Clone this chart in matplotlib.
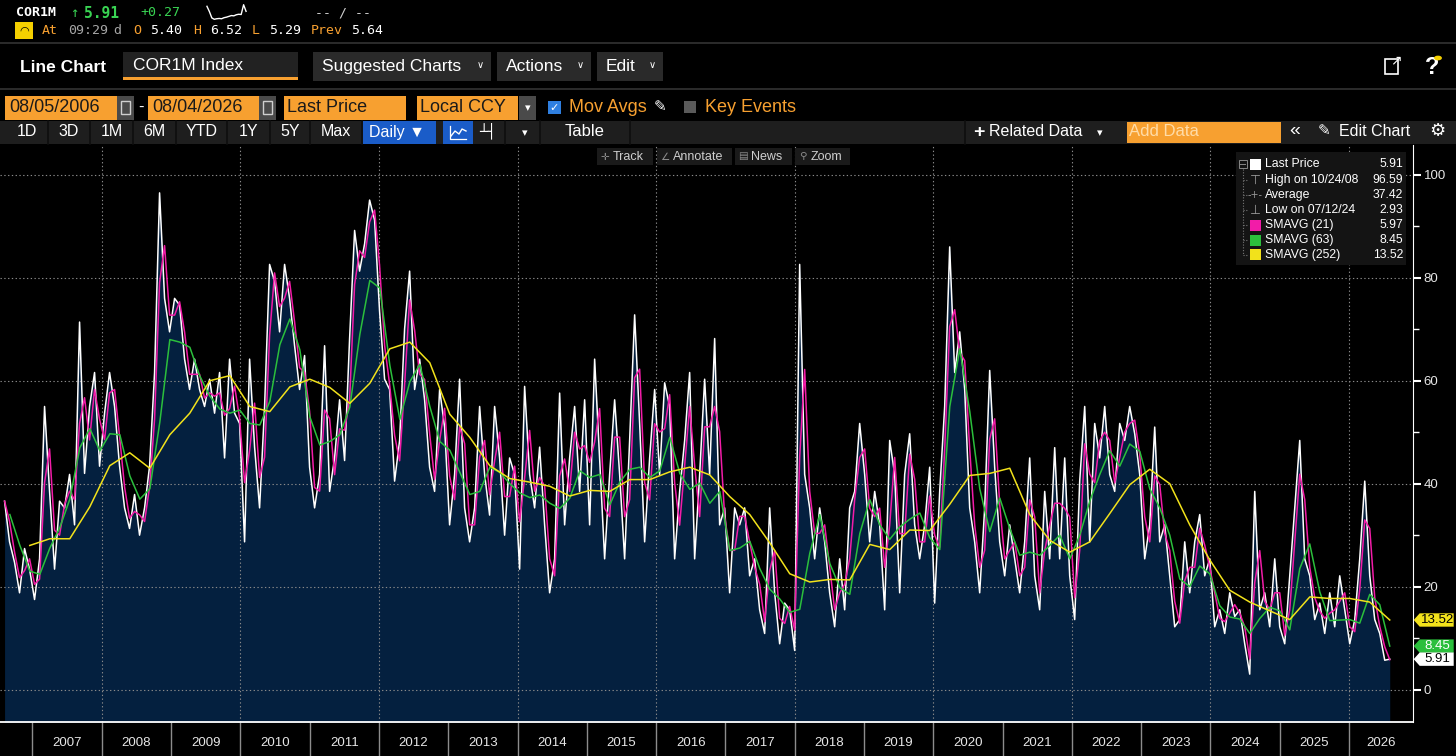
import numpy as np
import pandas as pd
import matplotlib
matplotlib.use("Agg")
import matplotlib.pyplot as plt
import matplotlib.dates as mdates
from matplotlib.patches import Rectangle, Polygon, Circle
from matplotlib.lines import Line2D
from matplotlib import font_manager

W, H = 1456, 756

# ---------------- data ----------------
# COR1M last price, sampled at even steps along the time axis
price_2006_09 = [36.6, 28.7, 24.7, 18.8, 27.4, 23.4, 17.5, 25.4, 55.0, 38.5, 23.4, 36.6,
                 35.3, 41.8, 32.0, 71.4, 42.0, 55.0, 61.6, 43.4, 53.7, 61.6, 55.0, 43.4,
                 35.3, 31.3, 37.9, 30.0, 35.3, 43.4, 61.6, 96.5, 76.0, 69.5, 76.0, 74.7,
                 64.2, 58.3, 64.2, 58.3, 55.0, 60.3, 53.7, 61.6, 45.0, 64.2, 53.7]
price_2010_13 = [51.7, 28.7, 64.2, 47.1, 35.3, 55.0, 82.6, 79.3, 69.5, 82.6, 76.0, 66.8,
                 58.3, 64.9, 43.2, 35.3, 41.8, 66.8, 38.5, 45.0, 56.3, 44.5, 68.2, 89.2,
                 81.3, 86.6, 95.1, 91.2, 73.4, 60.3, 58.3, 40.5, 48.4, 70.1, 81.3, 58.3,
                 64.2, 56.3, 43.2, 38.5, 58.3, 51.0, 32.0, 41.8, 60.3, 35.3, 28.7]
price_2013_16 = [35.3, 55.0, 41.8, 33.9, 55.0, 45.0, 30.0, 45.0, 41.8, 23.4, 58.9, 41.8,
                 35.3, 47.1, 32.0, 18.8, 25.4, 57.6, 32.0, 45.0, 55.0, 38.5, 56.3, 32.0,
                 64.2, 45.0, 25.4, 41.8, 56.3, 41.8, 25.4, 48.4, 72.8, 51.7, 28.7, 45.0,
                 58.3, 41.8, 59.6, 55.0, 25.4, 38.5, 48.4, 61.6, 25.4, 41.8, 60.3]
price_2016_20 = [41.8, 68.2, 32.0, 35.3, 18.8, 35.3, 32.0, 35.3, 22.1, 25.4, 15.5, 10.9,
                 35.3, 18.8, 8.9, 16.8, 15.5, 7.6, 82.6, 41.8, 35.3, 25.4, 35.3, 28.7,
                 18.8, 12.2, 25.4, 15.5, 35.3, 38.5, 51.7, 41.8, 28.7, 38.5, 32.0, 15.5,
                 48.4, 41.8, 18.8, 41.8, 49.7, 32.0, 25.4, 32.0, 43.2, 16.8, 38.5]
price_2020_23 = [55.0, 86.0, 61.6, 69.5, 58.3, 35.3, 28.7, 18.8, 35.3, 62.0, 43.2, 28.7,
                 22.1, 32.0, 25.4, 18.8, 28.7, 45.0, 22.1, 15.5, 38.5, 25.4, 47.0, 25.4,
                 45.0, 22.1, 13.6, 40.5, 55.0, 28.7, 51.7, 45.0, 55.0, 41.8, 38.5, 51.7,
                 48.4, 55.0, 49.7, 41.8, 25.4, 32.0, 51.0, 28.7, 32.0, 22.1, 12.2]
price_2023_26 = [13.6, 28.7, 18.8, 28.7, 34.0, 22.1, 25.4, 12.2, 15.5, 10.9, 18.8, 14.2,
                 15.5, 8.9, 3.0, 38.5, 15.5, 18.8, 12.2, 25.4, 12.2, 8.9, 22.1, 35.3,
                 48.4, 25.4, 22.1, 13.6, 16.8, 10.9, 18.8, 12.2, 22.1, 15.5, 8.9, 13.6,
                 25.4, 40.5, 22.1, 13.6, 10.9, 5.7, 5.91]

# SMAVG (63), read every ~0.14 yr
sma63 = [34.0, 28.0, 23.0, 22.4, 27.5, 31.5, 37.0, 47.0, 50.7, 46.4, 49.7, 49.5, 41.5, 37.0,
         39.0, 52.0, 68.0, 67.5, 66.5, 60.9, 57.0, 54.5, 53.7, 54.3, 51.7, 51.4, 56.0, 67.0,
         72.0, 66.0, 53.0, 47.5, 48.2, 49.5, 54.9, 69.0, 79.5, 78.0, 63.0, 52.5, 59.8, 63.2,
         55.0, 48.2, 46.5, 42.2, 37.9, 38.5, 43.2, 42.2, 40.0, 38.2, 37.3, 37.8, 36.2, 35.2,
         37.2, 42.5, 41.2, 41.8, 35.9, 40.3, 42.8, 43.2, 41.2, 42.5, 49.0, 42.0, 38.9, 40.1,
         36.2, 38.5, 27.0, 27.5, 28.8, 23.5, 19.5, 17.6, 15.0, 15.6, 26.5, 34.0, 24.5, 19.8,
         18.5, 30.3, 36.9, 32.0, 29.2, 31.6, 33.1, 34.3, 29.5, 27.2, 55.0, 66.2, 54.0, 39.0,
         30.7, 37.2, 31.3, 26.1, 26.7, 26.1, 28.0, 30.0, 25.4, 30.0, 36.6, 41.8, 46.4, 43.4,
         47.7, 46.3, 39.0, 35.3, 30.0, 21.5, 20.0, 24.0, 22.5, 16.3, 14.1, 13.7, 10.9, 13.8,
         16.0, 15.3, 11.6, 23.5, 28.3, 19.0, 13.4, 13.5, 13.6, 12.9, 18.5, 16.5, 8.45]

# SMAVG (252), read every ~0.29 yr
sma252 = [28.0, 29.3, 29.3, 35.5, 43.5, 46.0, 43.0, 49.5, 53.7, 60.0, 61.0, 55.0, 54.0, 58.8,
          60.3, 58.7, 55.6, 59.5, 66.2, 67.5, 63.5, 53.5, 49.0, 43.5, 41.0, 40.3, 39.5, 37.6,
          38.7, 38.5, 40.8, 40.8, 42.3, 43.2, 41.7, 37.5, 34.0, 28.5, 22.5, 20.9, 21.4, 21.3,
          28.2, 27.2, 31.0, 30.9, 36.0, 41.6, 42.0, 43.0, 34.0, 29.0, 26.7, 28.7, 34.2, 39.8,
          42.8, 40.0, 32.0, 25.2, 19.3, 17.0, 15.3, 13.6, 18.0, 17.7, 17.7, 17.0, 13.52]

# intraday sparkline in the header
spark = [8.0, 6.0, 3.6, 3.1, 3.3, 3.4, 3.3, 3.7, 3.9, 4.2, 4.5, 4.4, 4.8, 5.0, 4.9, 8.6, 6.1]

years = list(range(2007, 2027))
y_ticks = [0, 20, 40, 60, 80, 100]

last_price, sma21_last, sma63_last, sma252_last = 5.91, 5.97, 8.45, 13.52
high_val, high_date = 96.59, "10/24/08"
avg_val = 37.42
low_val, low_date = 2.93, "07/12/24"

price = price_2006_09 + price_2010_13 + price_2013_16 + price_2016_20 + price_2020_23 + price_2023_26
price_dates = pd.date_range("2006-08-07", "2026-08-04", periods=len(price))
s_price = pd.Series(price, index=price_dates)
sma21 = s_price.rolling(2, min_periods=1).mean()
sma63_dates = pd.date_range("2006-09-04", "2026-08-04", periods=len(sma63))
sma252_dates = pd.date_range("2006-12-18", "2026-08-04", periods=len(sma252))

# ---------------- styling ----------------
names = {f.name for f in font_manager.fontManager.ttflist}
UI = "Liberation Sans" if "Liberation Sans" in names else "DejaVu Sans"
NARROW = "Liberation Sans Narrow" if "Liberation Sans Narrow" in names else UI
MONO = "DejaVu Sans Mono"
SYM = "DejaVu Sans"

NAVY = "#04203f"
PINK = "#f21ca8"
GREEN = "#2bbf3c"
YELLOW = "#f2e21b"
ORANGE = "#f7a030"
GRID = "#8a8a8a"

fig = plt.figure(figsize=(W / 100, H / 100), dpi=100, facecolor="black")


def px_rect(x0, y0, x1, y1, color, z=3, ec="none", lw=0):
    fig.add_artist(Rectangle((x0 / W, 1 - y1 / H), (x1 - x0) / W, (y1 - y0) / H,
                             transform=fig.transFigure, facecolor=color, edgecolor=ec,
                             linewidth=lw, zorder=z))


def px_text(x, y, s, color="white", size=11, ha="left", va="center", family=None, z=6, **kw):
    fig.text(x / W, 1 - y / H, s, color=color, fontsize=size, ha=ha, va=va,
             family=family or UI, zorder=z, **kw)


def px_line(xs, ys, color, lw=1, z=4, **kw):
    fig.add_artist(Line2D([x / W for x in xs], [1 - y / H for y in ys], color=color,
                          linewidth=lw, transform=fig.transFigure, zorder=z, **kw))


# ---------------- main chart ----------------
ax = fig.add_axes([0, 1 - 722 / H, 1412.7 / W, (722 - 145) / H])
ax.set_facecolor("black")
x_left, x_right = pd.Timestamp("2006-07-14"), pd.Timestamp("2026-12-03")
ax.set_xlim(x_left, x_right)
ax.set_ylim(-6.3, 105.8)

ax.fill_between(price_dates, price, -10, color=NAVY, lw=0, zorder=1)
for v in y_ticks:
    ax.axhline(v, color=GRID, lw=0.8, ls=(0, (1.2, 2.2)), zorder=2)
for yr in range(2008, 2027, 2):
    ax.axvline(pd.Timestamp(f"{yr}-01-01"), color=GRID, lw=0.8, ls=(0, (1.2, 2.2)), zorder=2)

ax.plot(price_dates, price, color="white", lw=1.1, zorder=3)
ax.plot(sma21.index, sma21.values, color=PINK, lw=1.1, zorder=4)
ax.plot(sma63_dates, sma63, color=GREEN, lw=1.1, zorder=5)
ax.plot(sma252_dates, sma252, color=YELLOW, lw=1.1, zorder=6)

for side in ["top", "left"]:
    ax.spines[side].set_visible(False)
ax.spines["right"].set_color("white")
ax.spines["bottom"].set_color("white")
ax.spines["bottom"].set_linewidth(1.3)

ax.yaxis.tick_right()
ax.set_yticks(y_ticks)
ax.set_yticks([10, 30, 50, 70, 90], minor=True)
ax.tick_params(axis="y", which="major", colors="white", length=6, width=1.5, labelsize=9.5,
               labelcolor="#e6e6e6", pad=2)
ax.tick_params(axis="y", which="minor", colors="white", length=4, width=1)
for lab in ax.get_yticklabels():
    lab.set_family(NARROW)

year_starts = [pd.Timestamp(f"{y}-01-01") for y in years]
mids = []
for y in years:
    a = pd.Timestamp(f"{y}-01-01")
    b = min(pd.Timestamp(f"{y + 1}-01-01"), x_right)
    mids.append(a + (b - a) / 2)
ax.set_xticks(year_starts)
ax.set_xticklabels([])
ax.set_xticks(mids, minor=True)
ax.set_xticklabels([str(y) for y in years], minor=True)
ax.tick_params(axis="x", which="major", length=25, width=1, color="#8c8c8c")
ax.tick_params(axis="x", which="minor", length=0, pad=11, labelsize=9.5, labelcolor="#e6e6e6")
for lab in ax.get_xticklabels(minor=True):
    lab.set_family(NARROW)

# value tags on the right axis
aw = ax.get_position().width * W
tr = ax.get_yaxis_transform()
for val, fc, tc in [(sma252_last, YELLOW, "black"), (sma63_last, GREEN, "white"),
                    (last_price, "white", "black")]:
    h = 1.3
    pts = [(1 + 1 / aw, val), (1 + 7 / aw, val + h), (1 + 41 / aw, val + h),
           (1 + 41 / aw, val - h), (1 + 7 / aw, val - h)]
    ax.add_patch(Polygon(pts, closed=True, transform=tr, facecolor=fc, edgecolor="none",
                         clip_on=False, zorder=10))
    ax.text(1 + 25 / aw, val, f"{val:.2f}", transform=tr, color=tc, fontsize=9.5,
            ha="center", va="center", family=NARROW, zorder=11, clip_on=False)

# legend box
px_rect(1236, 152, 1406, 265, "#141414", z=7)
rows = [("Last Price", last_price), (f"High on {high_date}", high_val), ("Average", avg_val),
        (f"Low on {low_date}", low_val), ("SMAVG (21)", sma21_last), ("SMAVG (63)", sma63_last),
        ("SMAVG (252)", sma252_last)]
row_y = [164, 180, 195, 210, 225, 240, 255]
px_line([1242.5, 1242.5], [169, 255], "#777777", lw=0.8, z=8, ls=(0, (1, 1.5)))
px_rect(1238.5, 160, 1246.5, 168, "none", z=8, ec="#888888", lw=0.7)
px_line([1240, 1245], [164, 164], "#888888", lw=0.7, z=8)
for (label, val), yy in zip(rows, row_y):
    if yy > 170:
        px_line([1242.5, 1248], [yy, yy], "#777777", lw=0.8, z=8, ls=(0, (1, 1.5)))
    px_text(1265, yy, label, size=8.8, family=NARROW, z=9)
    px_text(1403, yy, f"{val:.2f}", size=8.8, family=NARROW, ha="right", z=9)
px_rect(1250, 159, 1261, 170, "white", z=8)
px_text(1255.5, 180, "⊤", color="#9a9a9a", size=9, ha="center", family=SYM, z=9)
px_text(1255.5, 195, "-+-", color="#9a9a9a", size=7, ha="center", family=SYM, z=9)
px_text(1255.5, 210, "⊥", color="#9a9a9a", size=9, ha="center", family=SYM, z=9)
for yy, c in zip(row_y[4:], [PINK, GREEN, YELLOW]):
    px_rect(1250, yy - 5.5, 1261, yy + 5.5, c, z=8)

# Track / Annotate / News / Zoom strip
for x0, x1, ic, lab in [(597, 653, "✛", "Track"), (657, 732, "∠", "Annotate"),
                        (735, 792, "▤", "News"), (795, 850, "⚲", "Zoom")]:
    px_rect(x0, 148, x1, 165, "#1a1a1a", z=7)
    px_text(x0 + 8, 156.5, ic, color="#8c8c8c", size=7.5, ha="center", family=SYM, z=8)
    px_text(x0 + 16, 156.5, lab, color="#cfcfcf", size=9, family=NARROW, z=8)

# ---------------- header ----------------
px_text(16, 13, "COR1M", size=9.5, family=MONO, weight="bold")
px_text(70, 13, "↑", color="#39d353", size=10, family=MONO)
px_text(84, 13, "5.91", color="#39d353", size=10.5, family=MONO, weight="bold")
px_text(140, 13, "+0.27", color="#39d353", size=9.5, family=MONO)
px_text(315, 13, "-- / --", color="#d0d0d0", size=9.5, family=MONO)
sax = fig.add_axes([205 / W, 1 - 20 / H, 43 / W, 16 / H])
sax.plot(range(len(spark)), spark, color="white", lw=1.0)
sax.axis("off")

px_rect(15, 22, 33, 39, "#f5d000", z=4)
px_text(24, 30.5, "◠", color="black", size=8, ha="center", family=SYM)
for x, s, c in [(42, "At", ORANGE), (68, "09:29", "#a6a6a6"), (113, "d", "#a6a6a6"),
                (133, "O", ORANGE), (150, "5.40", "white"), (193, "H", ORANGE),
                (210, "6.52", "white"), (252, "L", ORANGE), (269, "5.29", "white"),
                (311, "Prev", ORANGE), (351, "5.64", "white")]:
    px_text(x, 31, s, color=c, size=9.5, family=MONO)
px_line([0, W], [43, 43], "#333333", lw=1.2)

# row: chart type and menus
px_text(20, 67, "Line Chart", size=12.5, weight="bold")
px_rect(123, 52, 298, 80, "#222222")
px_rect(123, 77, 298, 80, ORANGE, z=4)
px_text(133, 65, "COR1M Index", size=12.5)
for x0, x1, lab in [(313, 491, "Suggested Charts"), (497, 591, "Actions"), (597, 663, "Edit")]:
    px_rect(x0, 52, x1, 81, "#2a2a2a")
    px_text(x0 + 9, 66.5, lab, size=12.5)
    px_text(x1 - 11, 65, "∨", size=7, ha="center", family=SYM)
px_rect(1385, 59, 1398, 74, "none", z=4, ec="white", lw=1.2)
px_text(1396, 60, "↗", size=10, ha="center", family=SYM)
px_text(1432, 67, "?", size=17, ha="center", weight="bold")
fig.add_artist(Circle((1438 / W, 1 - 58 / H), 3.2 / W, transform=fig.transFigure,
                      color="#f5d000", zorder=7))
px_line([0, W], [89, 89], "#333333", lw=1.2)

# row: dates and fields
px_rect(5, 96, 117, 120, ORANGE)
px_text(9, 108, "08/05/2006", color="#1a1a1a", size=13)
px_rect(117, 96, 134, 120, "#4a4a4a")
px_rect(121, 101, 130, 114, "none", z=4, ec="#cfcfcf", lw=1)
px_text(141, 107, "-", size=12, ha="center")
px_rect(148, 96, 259, 120, ORANGE)
px_text(152, 108, "08/04/2026", color="#1a1a1a", size=13)
px_rect(259, 96, 276, 120, "#4a4a4a")
px_rect(263, 101, 272, 114, "none", z=4, ec="#cfcfcf", lw=1)
px_rect(284, 96, 406, 120, ORANGE)
px_text(287, 108, "Last Price", color="#1a1a1a", size=13)
px_rect(417, 96, 518, 120, ORANGE)
px_text(420, 108, "Local CCY", color="#1a1a1a", size=13)
px_rect(519, 96, 536, 120, "#4a4a4a")
px_text(527.5, 108, "▾", size=8, ha="center", family=SYM)
px_rect(548, 101, 561, 114, "#2f7fe0")
px_text(554.5, 107.5, "✓", size=8, ha="center", family=SYM, weight="bold")
px_text(569, 108, "Mov Avgs", color=ORANGE, size=13)
px_text(660, 107, "✎", size=11, ha="center", family=SYM)
px_rect(684, 101, 696, 113, "#5a5a5a")
px_text(705, 108, "Key Events", color=ORANGE, size=13)

# row: period buttons and tools
px_rect(0, 121, W, 144, "#1e1e1e", z=2)
for x0, x1, lab in [(5, 48, "1D"), (48, 90, "3D"), (90, 133, "1M"), (133, 176, "6M"),
                    (176, 227, "YTD"), (227, 270, "1Y"), (270, 310, "5Y"), (310, 362, "Max")]:
    px_line([x1, x1], [121, 144], "#0e0e0e", lw=1.2)
    px_text((x0 + x1) / 2, 132, lab, size=11.5, ha="center")
px_rect(363, 121, 436, 144, "#1a5cc8")
px_text(369, 132, "Daily ▼", size=11.5, family=UI)
px_rect(443, 121, 473, 144, "#1a5cc8")
# small line-chart icon on the blue button
px_line([450, 450, 466], [126, 139, 139], "white", lw=0.9, z=5)
px_line([451, 455, 459, 462, 466], [136, 131, 134, 129, 131], "white", lw=1.0, z=5)
px_text(488, 131, "┴┤", size=10, ha="center", family=SYM)
px_line([505, 505], [121, 144], "#0e0e0e", lw=1.2)
px_line([540, 540], [121, 144], "#0e0e0e", lw=1.2)
px_text(525, 133, "▾", size=8, ha="center", family=SYM)
px_text(585, 132, "Table", size=12, ha="center")
px_line([630, 630], [121, 144], "#0e0e0e", lw=1.2)
px_line([965, 965], [121, 144], "#0e0e0e", lw=1.2)
px_text(973, 132, "+", size=14, weight="bold")
px_text(989, 132, "Related Data", size=11.5)
px_text(1100, 133, "▾", size=8, ha="center", family=SYM)
px_rect(1127, 122, 1281, 143, ORANGE)
px_text(1129, 132, "Add Data", color="#ffdca8", size=12)
px_text(1295, 131, "«", size=14, ha="center")
px_text(1324, 131, "✎", size=11, ha="center", family=SYM)
px_text(1339, 132, "Edit Chart", size=11.5)
px_text(1437, 131, "⚙", size=13, ha="center", family=SYM)

fig.savefig("out.png", dpi=100, facecolor="black")
